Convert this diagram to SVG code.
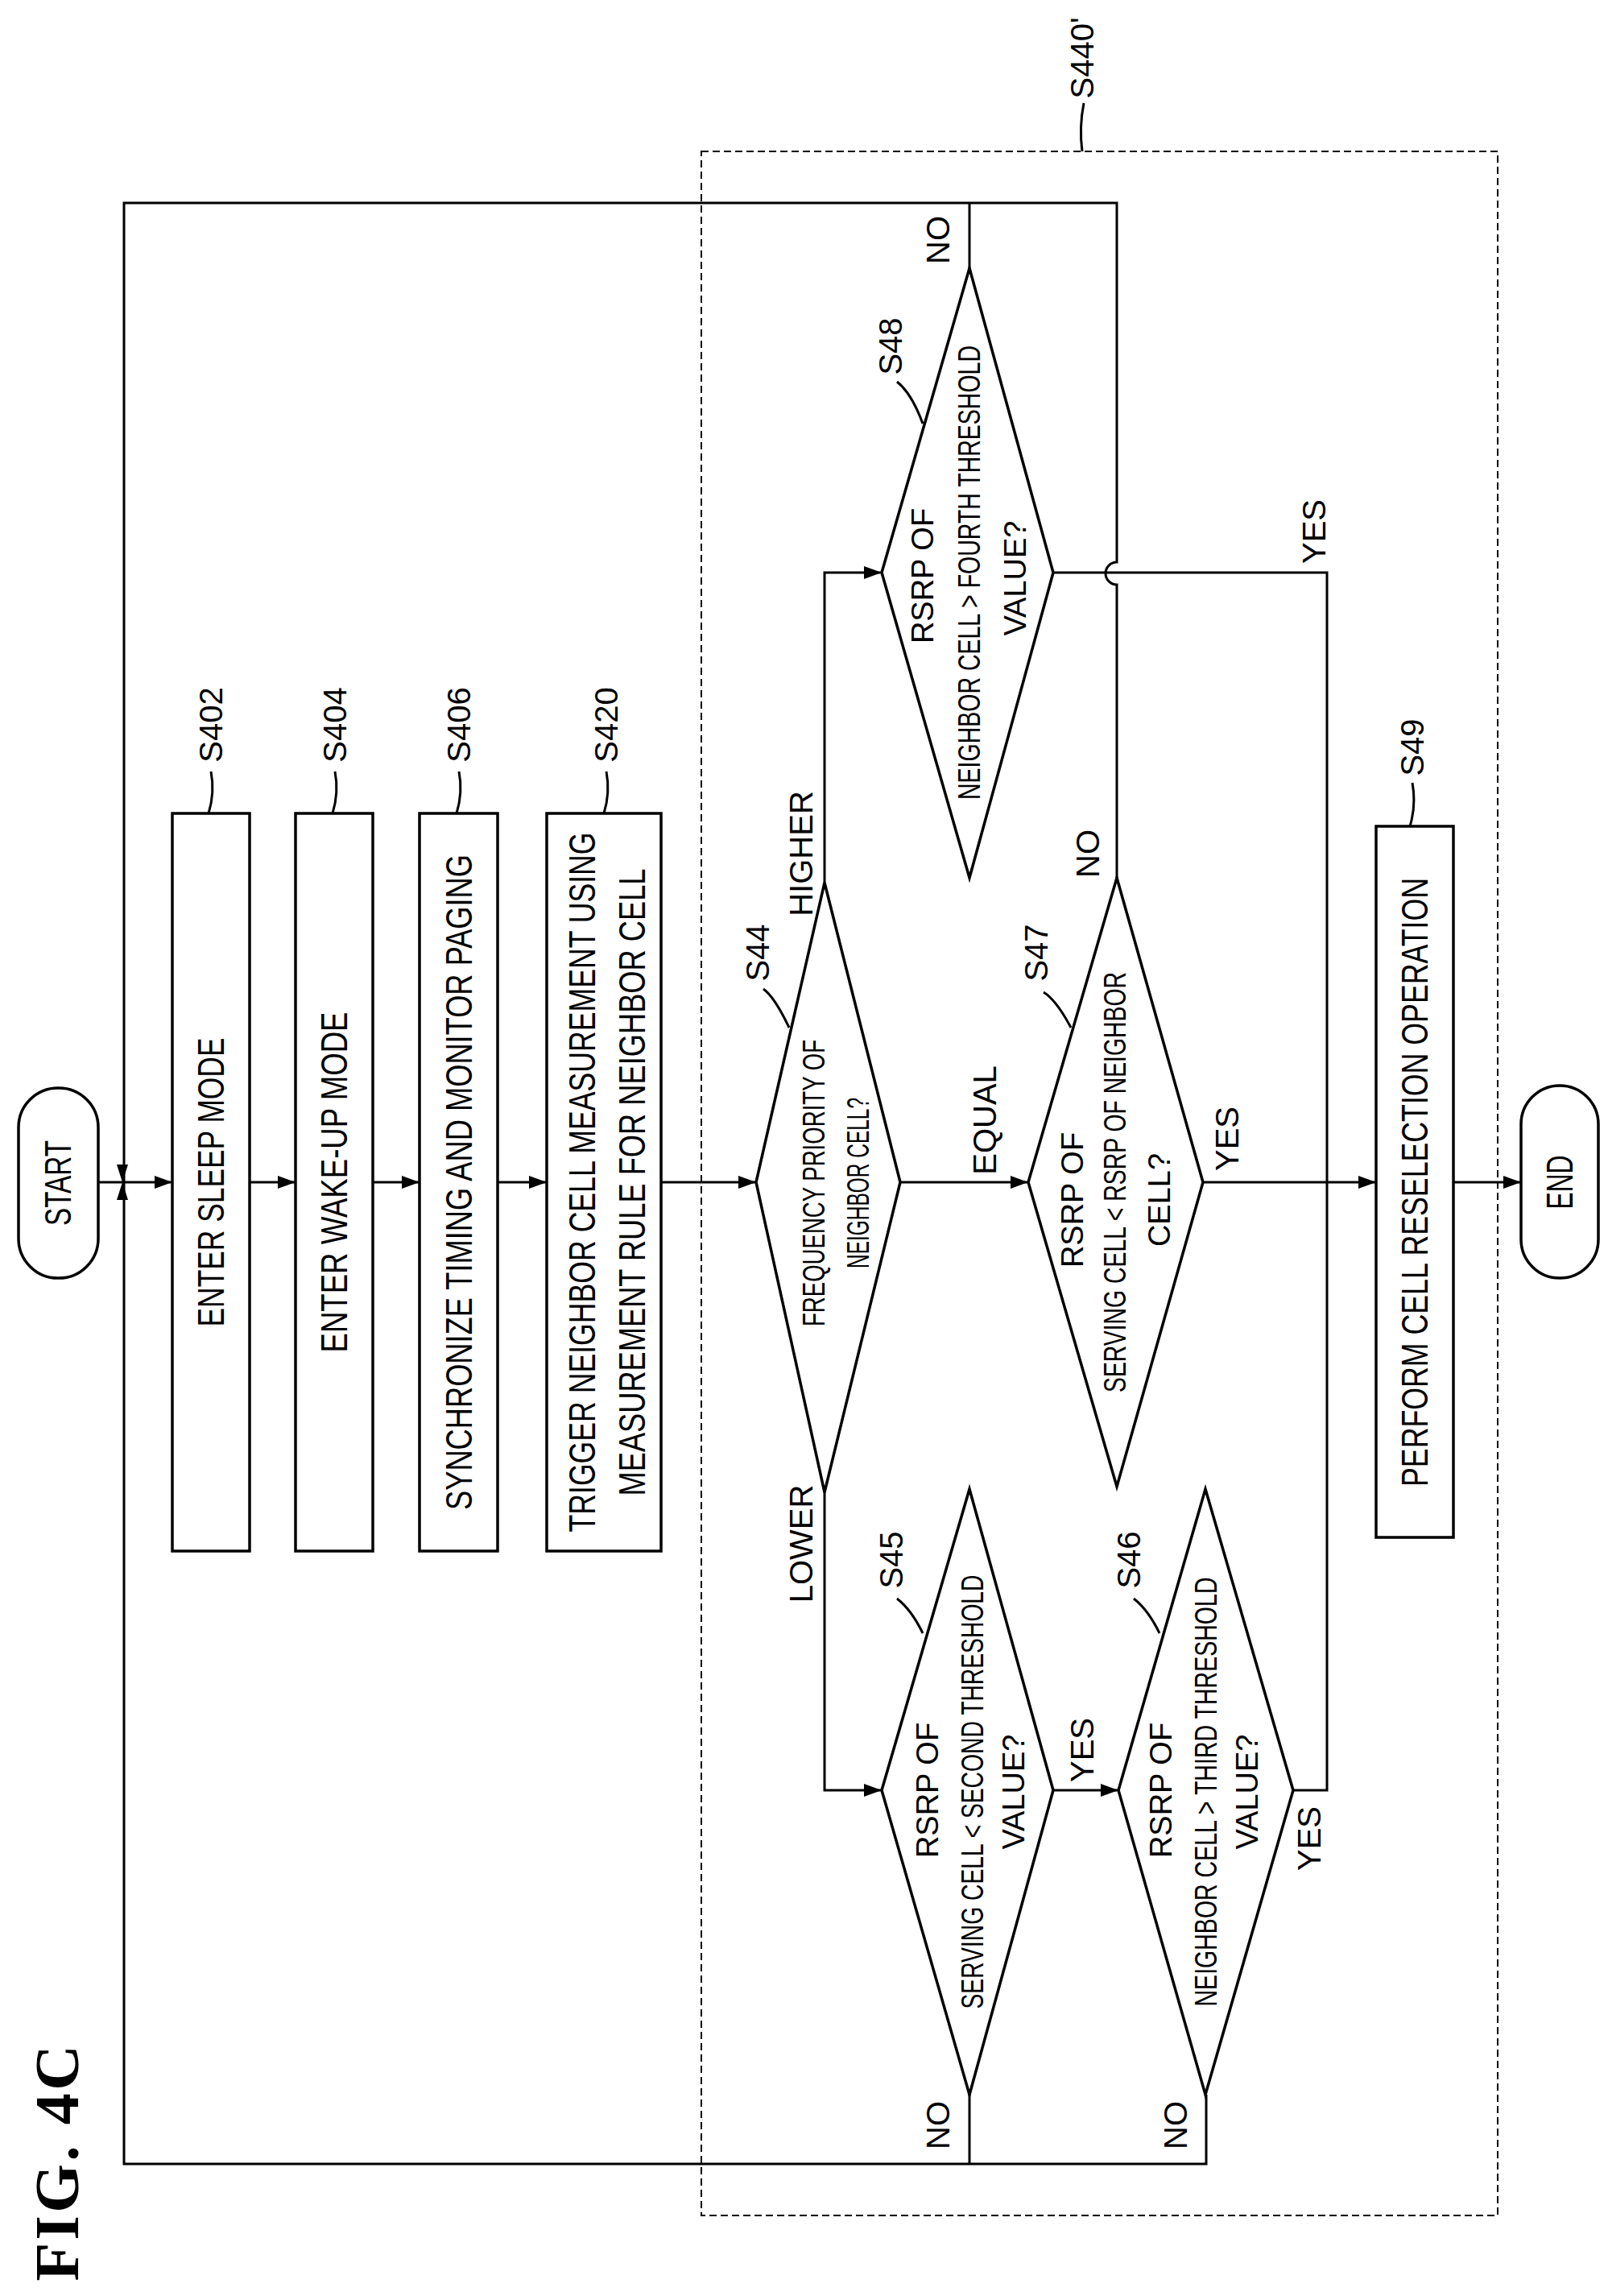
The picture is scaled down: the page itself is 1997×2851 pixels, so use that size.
<svg xmlns="http://www.w3.org/2000/svg" width="1997" height="2851" viewBox="0 0 1997 2851">
<style>
.s{fill:none;stroke:#000;stroke-width:3}
.n{fill:#fff;stroke:#000;stroke-width:3.5}
.d{fill:none;stroke:#000;stroke-width:2;stroke-dasharray:9 5}
text{font-family:"Liberation Sans",Arial,sans-serif;fill:#000;text-anchor:middle;dominant-baseline:central}
.b{font-size:46px}
.q{font-size:38px}
.l{font-size:40px}
.f{font-family:"Liberation Serif","Times New Roman",serif;font-weight:bold;font-size:78px}
</style>
<defs>
<marker id="a" markerUnits="userSpaceOnUse" markerWidth="22" markerHeight="16" refX="22" refY="8" orient="auto"><path d="M0,0 L22,8 L0,16 Z" fill="#000"/></marker>
</defs>
<rect class="d" x="871" y="188" width="989" height="2563"/>
<g id="connectors">
<path class="s" d="M122,1468 H214" marker-end="url(#a)"/>
<path class="s" d="M310,1468 H367" marker-end="url(#a)"/>
<path class="s" d="M463,1468 H521" marker-end="url(#a)"/>
<path class="s" d="M618,1468 H679" marker-end="url(#a)"/>
<path class="s" d="M821,1468 H939" marker-end="url(#a)"/>
<path class="s" d="M1118,1468 H1277" marker-end="url(#a)"/>
<path class="s" d="M1494,1468 H1709" marker-end="url(#a)"/>
<path class="s" d="M1805,1468 H1889" marker-end="url(#a)"/>
<path class="s" d="M1024,1096 V711 H1095" marker-end="url(#a)"/>
<path class="s" d="M1024,1853 V2223 H1095" marker-end="url(#a)"/>
<path class="s" d="M1308,2223 H1389" marker-end="url(#a)"/>
<path class="s" d="M1606,2223 H1648 V711 H1308"/>
<path class="s" d="M1387,1090 V726 A14,14 0 0 1 1387,698 V252 H154 V2687 H1498 V2601"/>
<path class="s" d="M1204,333 V252"/>
<path class="s" d="M1204,2601 V2687"/>
<path d="M145,1446 L159,1446 L152,1468 Z M145,1490 L159,1490 L152,1468 Z" fill="#000"/>
</g>
<g id="start"><rect class="n" x="23" y="1351" width="99" height="236" rx="49"/><text class="b" transform="translate(72,1469) rotate(-90)" textLength="106" lengthAdjust="spacingAndGlyphs">START</text></g>
<g id="S402"><rect class="n" x="214" y="1010" width="96" height="916"/><text class="b" transform="translate(262,1468) rotate(-90)" textLength="359" lengthAdjust="spacingAndGlyphs">ENTER SLEEP MODE</text></g>
<g id="S404"><rect class="n" x="367" y="1010" width="96" height="916"/><text class="b" transform="translate(415,1468) rotate(-90)" textLength="423" lengthAdjust="spacingAndGlyphs">ENTER WAKE-UP MODE</text></g>
<g id="S406"><rect class="n" x="521" y="1010" width="97" height="916"/><text class="b" transform="translate(570,1468) rotate(-90)" textLength="814" lengthAdjust="spacingAndGlyphs">SYNCHRONIZE TIMING AND MONITOR PAGING</text></g>
<g id="S420"><rect class="n" x="679" y="1010" width="142" height="916"/><text class="b" transform="translate(723,1468) rotate(-90)" textLength="869" lengthAdjust="spacingAndGlyphs">TRIGGER NEIGHBOR CELL MEASUREMENT USING</text><text class="b" transform="translate(785,1468) rotate(-90)" textLength="779" lengthAdjust="spacingAndGlyphs">MEASUREMENT RULE FOR NEIGHBOR CELL</text></g>
<g id="S44"><polygon class="n" points="1024,1096 1118,1468 1024,1853 939,1468"/><text class="q" transform="translate(1011,1469) rotate(-90)" textLength="356" lengthAdjust="spacingAndGlyphs">FREQUENCY PRIORITY OF</text><text class="q" transform="translate(1066,1469) rotate(-90)" textLength="212" lengthAdjust="spacingAndGlyphs">NEIGHBOR CELL?</text></g>
<g id="S47"><polygon class="n" points="1387,1090 1494,1468 1387,1846 1277,1468"/><text class="q" transform="translate(1332,1490) rotate(-90)">RSRP OF</text><text class="q" transform="translate(1385,1468) rotate(-90)" textLength="522" lengthAdjust="spacingAndGlyphs">SERVING CELL &lt; RSRP OF NEIGHBOR</text><text class="q" transform="translate(1440,1490) rotate(-90)">CELL?</text></g>
<g id="S48"><polygon class="n" points="1204,333 1308,711 1204,1090 1095,711"/><text class="q" transform="translate(1146,715) rotate(-90)">RSRP OF</text><text class="q" transform="translate(1204,711) rotate(-90)" textLength="564" lengthAdjust="spacingAndGlyphs">NEIGHBOR CELL &gt; FOURTH THRESHOLD</text><text class="q" transform="translate(1261,718) rotate(-90)">VALUE?</text></g>
<g id="S45"><polygon class="n" points="1204,1849 1308,2223 1204,2601 1095,2223"/><text class="q" transform="translate(1152,2223) rotate(-90)">RSRP OF</text><text class="q" transform="translate(1208,2225) rotate(-90)" textLength="539" lengthAdjust="spacingAndGlyphs">SERVING CELL &lt; SECOND THRESHOLD</text><text class="q" transform="translate(1259,2225) rotate(-90)">VALUE?</text></g>
<g id="S46"><polygon class="n" points="1497,1849 1606,2223 1497,2601 1389,2223"/><text class="q" transform="translate(1442,2223) rotate(-90)">RSRP OF</text><text class="q" transform="translate(1498,2225) rotate(-90)" textLength="533" lengthAdjust="spacingAndGlyphs">NEIGHBOR CELL &gt; THIRD THRESHOLD</text><text class="q" transform="translate(1549,2225) rotate(-90)">VALUE?</text></g>
<g id="S49"><rect class="n" x="1709" y="1026" width="96" height="883"/><text class="b" transform="translate(1757,1468) rotate(-90)" textLength="756" lengthAdjust="spacingAndGlyphs">PERFORM CELL RESELECTION OPERATION</text></g>
<g id="end"><rect class="n" x="1889" y="1348" width="96" height="239" rx="48"/><text class="b" transform="translate(1937,1468) rotate(-90)" textLength="67" lengthAdjust="spacingAndGlyphs">END</text></g>
<g id="labels">
<text class="l" transform="translate(262,900) rotate(-90)">S402</text><path class="s" stroke-width="2" d="M262,958 q5,26 -3,52"/>
<text class="l" transform="translate(416,900) rotate(-90)">S404</text><path class="s" stroke-width="2" d="M416,958 q5,26 -3,52"/>
<text class="l" transform="translate(570,900) rotate(-90)">S406</text><path class="s" stroke-width="2" d="M570,958 q5,26 -3,52"/>
<text class="l" transform="translate(753,900) rotate(-90)">S420</text><path class="s" stroke-width="2" d="M753,958 q5,26 -3,52"/>
<text class="l" transform="translate(1754,928) rotate(-90)">S49</text><path class="s" stroke-width="2" d="M1754,972 q5,28 -3,54"/>
<text class="l" transform="translate(941,1183) rotate(-90)">S44</text><path class="s" stroke-width="2" d="M948,1228 q14,10 32,48"/>
<text class="l" transform="translate(1287,1183) rotate(-90)">S47</text><path class="s" stroke-width="2" d="M1296,1232 q16,10 34,44"/>
<text class="l" transform="translate(1106,430) rotate(-90)">S48</text><path class="s" stroke-width="2" d="M1114,474 q18,14 32,52"/>
<text class="l" transform="translate(1107,1937) rotate(-90)">S45</text><path class="s" stroke-width="2" d="M1114,1985 q18,14 32,43"/>
<text class="l" transform="translate(1402,1937) rotate(-90)">S46</text><path class="s" stroke-width="2" d="M1408,1985 q18,14 32,43"/>
<text class="l" transform="translate(1344,72) rotate(-90)">S440'</text><path class="s" stroke-width="2" d="M1346,128 q-6,30 -2,60"/>
<text class="l" transform="translate(995,1060) rotate(-90)">HIGHER</text>
<text class="l" transform="translate(995,1917) rotate(-90)">LOWER</text>
<text class="l" transform="translate(1223,1391) rotate(-90)">EQUAL</text>
<text class="l" transform="translate(1524,1414) rotate(-90)">YES</text>
<text class="l" transform="translate(1351,1060) rotate(-90)">NO</text>
<text class="l" transform="translate(1165,298) rotate(-90)">NO</text>
<text class="l" transform="translate(1632,660) rotate(-90)">YES</text>
<text class="l" transform="translate(1344,2173) rotate(-90)">YES</text>
<text class="l" transform="translate(1626,2283) rotate(-90)">YES</text>
<text class="l" transform="translate(1165,2639) rotate(-90)">NO</text>
<text class="l" transform="translate(1460,2639) rotate(-90)">NO</text>
<text class="f" transform="translate(70,2686) rotate(-90)" textLength="293" lengthAdjust="spacing">FIG. 4C</text>
</g>
</svg>
